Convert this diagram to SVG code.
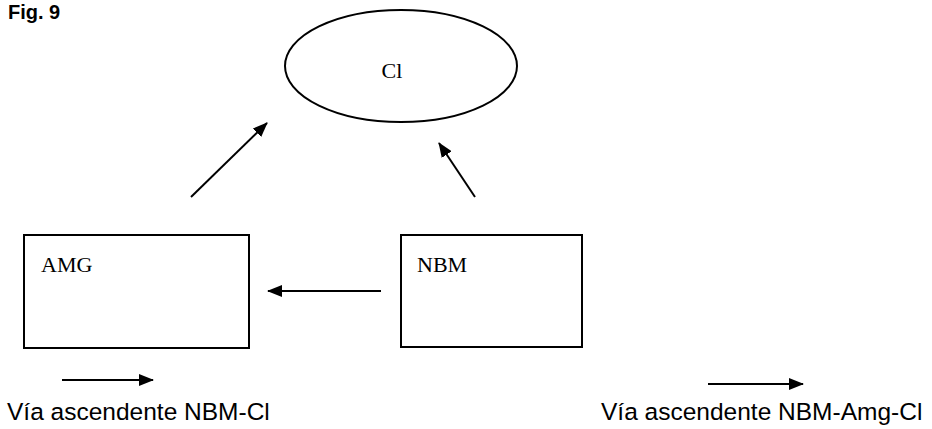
<svg xmlns="http://www.w3.org/2000/svg" width="932" height="429" viewBox="0 0 932 429">
<style>
.box{fill:none;stroke:#000;stroke-width:2}
.lbl{font-family:"Liberation Serif","Times New Roman",serif;font-size:22px;fill:#000}
.cap{font-family:"Liberation Sans",Arial,sans-serif;font-size:24.5px;fill:#000}
.ln{stroke:#000;stroke-width:2;fill:none}
</style>
<defs>
<marker id="ah" viewBox="0 0 15 12" refX="14" refY="6" markerWidth="15" markerHeight="12" markerUnits="userSpaceOnUse" orient="auto">
<path d="M0,0 L15,6 L0,12 Z" fill="#000"/>
</marker>
</defs>
<rect width="932" height="429" fill="#fff"/>
<text x="8" y="19" font-family="Liberation Sans,Arial,sans-serif" font-weight="bold" font-size="20">Fig. 9</text>
<g id="node-cl">
<ellipse class="box" cx="401" cy="66" rx="116" ry="56"/>
<text class="lbl" x="392" y="78" text-anchor="middle">Cl</text>
</g>
<g id="node-amg">
<rect class="box" x="24" y="235" width="225" height="113"/>
<text class="lbl" x="41" y="272">AMG</text>
</g>
<g id="node-nbm">
<rect class="box" x="401" y="235" width="181" height="112"/>
<text class="lbl" x="417" y="272">NBM</text>
</g>
<g id="connectors">
<line class="ln" x1="191" y1="197" x2="267" y2="123" marker-end="url(#ah)"/>
<line class="ln" x1="475" y1="197" x2="439" y2="143" marker-end="url(#ah)"/>
<line class="ln" x1="381" y1="291" x2="268" y2="291" marker-end="url(#ah)"/>
</g>
<g id="legend">
<line class="ln" x1="62" y1="380" x2="153" y2="380" marker-end="url(#ah)"/>
<text class="cap" x="7" y="420">Vía ascendente NBM-Cl</text>
<line class="ln" x1="708" y1="384" x2="803" y2="384" marker-end="url(#ah)"/>
<text class="cap" x="601" y="420">Vía ascendente NBM-Amg-Cl</text>
</g>
</svg>
